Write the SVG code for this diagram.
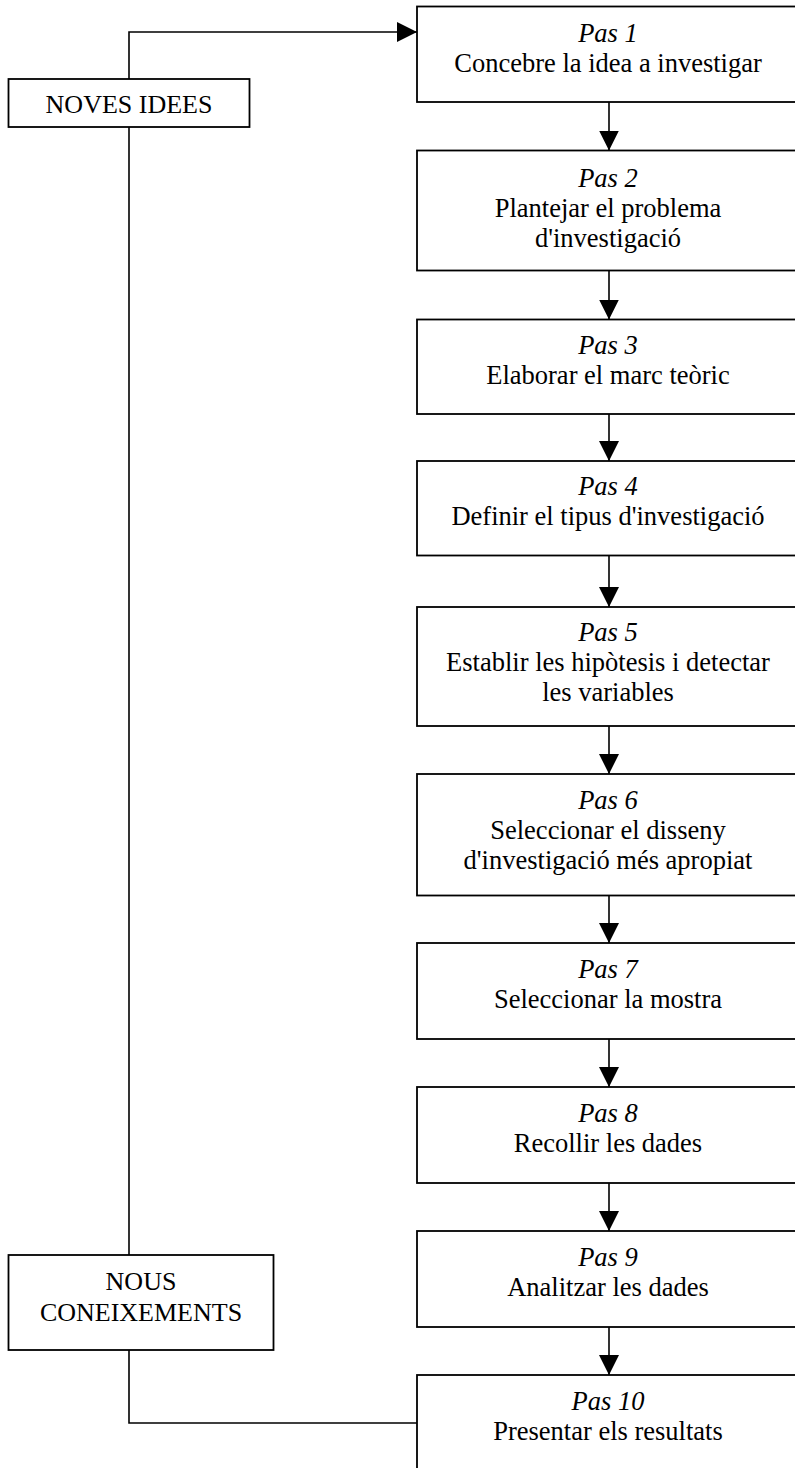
<svg xmlns="http://www.w3.org/2000/svg" width="795" height="1468" viewBox="0 0 795 1468">
<style>
.box{fill:#fff;stroke:#000;stroke-width:1.8}
.ln{fill:none;stroke:#000;stroke-width:1.6}
text{font-family:"Liberation Serif","Times New Roman",serif;font-size:26px;fill:#000;text-anchor:middle}
.st text{font-size:26.5px}
.it{font-style:italic}
</style>
<defs>
<marker id="ah" viewBox="0 0 20 20" refX="20" refY="10" markerWidth="20" markerHeight="20" markerUnits="userSpaceOnUse" orient="auto">
<path d="M0,0 L20,10 L0,20 Z" fill="#000"/>
</marker>
</defs>
<g id="connectors">
<path class="ln" d="M129,79 V32 H417" marker-end="url(#ah)"/>
<path class="ln" d="M129,127 V1255"/>
<path class="ln" d="M129,1350 V1423 H417"/>
<path class="ln" d="M609,102 V150.5" marker-end="url(#ah)"/>
<path class="ln" d="M609,270.5 V319.5" marker-end="url(#ah)"/>
<path class="ln" d="M609,414 V461" marker-end="url(#ah)"/>
<path class="ln" d="M609,555.5 V607" marker-end="url(#ah)"/>
<path class="ln" d="M609,726 V774" marker-end="url(#ah)"/>
<path class="ln" d="M609,895.5 V943" marker-end="url(#ah)"/>
<path class="ln" d="M609,1039 V1087" marker-end="url(#ah)"/>
<path class="ln" d="M609,1183 V1231" marker-end="url(#ah)"/>
<path class="ln" d="M609,1327 V1375" marker-end="url(#ah)"/>
</g>
<g id="noves-idees">
<rect class="box" x="8.5" y="79" width="241" height="48"/>
<text x="129" y="113">NOVES IDEES</text>
</g>
<g id="nous-coneixements">
<rect class="box" x="8.5" y="1255" width="265" height="95"/>
<text x="141" y="1290">NOUS</text>
<text x="141" y="1320.5">CONEIXEMENTS</text>
</g>
<g id="pas1" class="st">
<rect class="box" x="417" y="6.5" width="390" height="95.5"/>
<text class="it" x="608" y="41.5">Pas 1</text>
<text x="608" y="71.5">Concebre la idea a investigar</text>
</g>
<g id="pas2" class="st">
<rect class="box" x="417" y="150.5" width="390" height="120"/>
<text class="it" x="608" y="186.5">Pas 2</text>
<text x="608" y="216.5">Plantejar el problema</text>
<text x="608" y="246.5">d'investigació</text>
</g>
<g id="pas3" class="st">
<rect class="box" x="417" y="319.5" width="390" height="94.5"/>
<text class="it" x="608" y="353.5">Pas 3</text>
<text x="608" y="383.5">Elaborar el marc teòric</text>
</g>
<g id="pas4" class="st">
<rect class="box" x="417" y="461" width="390" height="94.5"/>
<text class="it" x="608" y="495">Pas 4</text>
<text x="608" y="525">Definir el tipus d'investigació</text>
</g>
<g id="pas5" class="st">
<rect class="box" x="417" y="607" width="390" height="119"/>
<text class="it" x="608" y="641">Pas 5</text>
<text x="608" y="671">Establir les hipòtesis i detectar</text>
<text x="608" y="701">les variables</text>
</g>
<g id="pas6" class="st">
<rect class="box" x="417" y="774" width="390" height="121.5"/>
<text class="it" x="608" y="808.5">Pas 6</text>
<text x="608" y="838.5">Seleccionar el disseny</text>
<text x="608" y="868.5">d'investigació més apropiat</text>
</g>
<g id="pas7" class="st">
<rect class="box" x="417" y="943" width="390" height="96"/>
<text class="it" x="608" y="978">Pas 7</text>
<text x="608" y="1008">Seleccionar la mostra</text>
</g>
<g id="pas8" class="st">
<rect class="box" x="417" y="1087" width="390" height="96"/>
<text class="it" x="608" y="1121.5">Pas 8</text>
<text x="608" y="1151.5">Recollir les dades</text>
</g>
<g id="pas9" class="st">
<rect class="box" x="417" y="1231" width="390" height="96"/>
<text class="it" x="608" y="1265.5">Pas 9</text>
<text x="608" y="1295.5">Analitzar les dades</text>
</g>
<g id="pas10" class="st">
<rect class="box" x="417" y="1375" width="390" height="120"/>
<text class="it" x="608" y="1410">Pas 10</text>
<text x="608" y="1440">Presentar els resultats</text>
</g>
</svg>
